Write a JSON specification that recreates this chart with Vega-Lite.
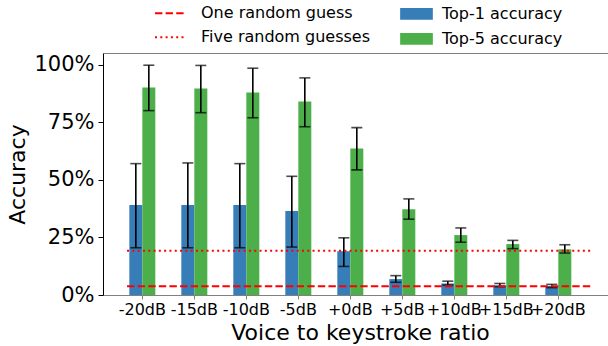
{
  "$schema": "https://vega.github.io/schema/vega-lite/v6.json",
  "width": 505,
  "height": 242,
  "autosize": {"type": "none"},
  "padding": {"left": 103, "top": 53, "right": 0, "bottom": 51},
  "config": {
    "font": "DejaVu Sans",
    "view": {"stroke": null},
    "axis": {"grid": false, "labelColor": "black", "titleColor": "black", "titleFontWeight": "normal"},
    "axisY": {"domainColor": "black", "tickColor": "black", "tickSize": 5, "labelPadding": 4, "labelFontSize": 21, "titleFontSize": 22, "titlePadding": 4}
  },
  "datasets": {
    "acc": [
      {"ratio": "-20dB", "metric": "Top-1 accuracy", "acc": 0.39, "lo": 0.205, "hi": 0.57},
      {"ratio": "-20dB", "metric": "Top-5 accuracy", "acc": 0.9, "lo": 0.8, "hi": 0.997},
      {"ratio": "-15dB", "metric": "Top-1 accuracy", "acc": 0.39, "lo": 0.205, "hi": 0.573},
      {"ratio": "-15dB", "metric": "Top-5 accuracy", "acc": 0.896, "lo": 0.791, "hi": 0.996},
      {"ratio": "-10dB", "metric": "Top-1 accuracy", "acc": 0.39, "lo": 0.205, "hi": 0.57},
      {"ratio": "-10dB", "metric": "Top-5 accuracy", "acc": 0.879, "lo": 0.769, "hi": 0.984},
      {"ratio": "-5dB", "metric": "Top-1 accuracy", "acc": 0.364, "lo": 0.208, "hi": 0.515},
      {"ratio": "-5dB", "metric": "Top-5 accuracy", "acc": 0.84, "lo": 0.73, "hi": 0.942},
      {"ratio": "+0dB", "metric": "Top-1 accuracy", "acc": 0.19, "lo": 0.124, "hi": 0.248},
      {"ratio": "+0dB", "metric": "Top-5 accuracy", "acc": 0.636, "lo": 0.543, "hi": 0.726},
      {"ratio": "+5dB", "metric": "Top-1 accuracy", "acc": 0.069, "lo": 0.055, "hi": 0.084},
      {"ratio": "+5dB", "metric": "Top-5 accuracy", "acc": 0.372, "lo": 0.329, "hi": 0.417},
      {"ratio": "+10dB", "metric": "Top-1 accuracy", "acc": 0.05, "lo": 0.043, "hi": 0.06},
      {"ratio": "+10dB", "metric": "Top-5 accuracy", "acc": 0.26, "lo": 0.229, "hi": 0.291},
      {"ratio": "+15dB", "metric": "Top-1 accuracy", "acc": 0.042, "lo": 0.036, "hi": 0.05},
      {"ratio": "+15dB", "metric": "Top-5 accuracy", "acc": 0.221, "lo": 0.201, "hi": 0.237},
      {"ratio": "+20dB", "metric": "Top-1 accuracy", "acc": 0.039, "lo": 0.032, "hi": 0.046},
      {"ratio": "+20dB", "metric": "Top-5 accuracy", "acc": 0.198, "lo": 0.182, "hi": 0.218}
    ],
    "guess": [
      {"guess": "One random guess", "value": 0.0385, "start": "-20dB", "end": "+20dB"},
      {"guess": "Five random guesses", "value": 0.1923, "start": "-20dB", "end": "+20dB"}
    ]
  },
  "layer": [
    {
      "data": {"name": "acc"},
      "mark": {"type": "bar"},
      "encoding": {
        "x": {"field": "ratio", "type": "nominal",
          "scale": {"domain": ["-20dB", "-15dB", "-10dB", "-5dB", "+0dB", "+5dB", "+10dB", "+15dB", "+20dB"], "paddingInner": 0, "paddingOuter": 0.356, "align": 0.36},
          "axis": {"orient": "bottom", "title": "Voice to keystroke ratio", "labelAngle": 0, "labelFontSize": 16, "labelPadding": 2, "tickSize": 4, "tickColor": "#808080", "domainColor": "#808080", "titleFontSize": 22, "titlePadding": 5, "titleX": 257, "titleAlign": "center"}},
        "xOffset": {"field": "metric", "type": "nominal", "scale": {"domain": ["Top-1 accuracy", "Top-5 accuracy"], "paddingInner": 0, "paddingOuter": 1.476}},
        "y": {"field": "acc", "type": "quantitative", "title": "Accuracy", "scale": {"domain": [0, 1.05], "nice": false},
          "axis": {"values": [0, 0.25, 0.5, 0.75, 1], "format": ".0%"}},
        "color": {"field": "metric", "type": "nominal",
          "scale": {"domain": ["Top-1 accuracy", "Top-5 accuracy"], "range": ["#377eb8", "#4daf4a"]},
          "legend": {"orient": "none", "legendX": 297, "legendY": -55.7, "title": null, "symbolType": "M-1,-0.358H1V0.358H-1Z", "symbolSize": 1069, "symbolStrokeWidth": 0, "symbolOpacity": 1, "labelFontSize": 16, "labelOffset": 9, "labelColor": "black", "labelLimit": 300, "rowPadding": -2.3}}
      }
    },
    {
      "data": {"name": "acc"},
      "mark": {"type": "rule", "color": "black", "strokeWidth": 1.6},
      "encoding": {
        "x": {"field": "ratio", "type": "nominal",
          "axis": {"orient": "top", "labels": false, "ticks": false, "title": null, "domainColor": "#808080"}},
        "xOffset": {"field": "metric", "type": "nominal"},
        "y": {"field": "lo", "type": "quantitative", "title": "Accuracy"},
        "y2": {"field": "hi"}
      }
    },
    {
      "data": {"name": "acc"},
      "mark": {"type": "tick", "color": "black", "size": 11, "thickness": 1.6, "orient": "horizontal"},
      "encoding": {
        "x": {"field": "ratio", "type": "nominal", "axis": null},
        "xOffset": {"field": "metric", "type": "nominal"},
        "y": {"field": "lo", "type": "quantitative", "title": "Accuracy"}
      }
    },
    {
      "data": {"name": "acc"},
      "mark": {"type": "tick", "color": "black", "size": 11, "thickness": 1.6, "orient": "horizontal"},
      "encoding": {
        "x": {"field": "ratio", "type": "nominal", "axis": null},
        "xOffset": {"field": "metric", "type": "nominal"},
        "y": {"field": "hi", "type": "quantitative", "title": "Accuracy"}
      }
    },
    {
      "data": {"name": "guess"},
      "mark": {"type": "rule", "color": "red", "strokeWidth": 2, "strokeCap": "butt"},
      "encoding": {
        "x": {"field": "start", "type": "nominal", "bandPosition": 0.206, "axis": null},
        "x2": {"field": "end", "bandPosition": 1.167},
        "y": {"field": "value", "type": "quantitative", "title": "Accuracy"},
        "strokeDash": {"field": "guess", "type": "nominal",
          "scale": {"domain": ["One random guess", "Five random guesses"], "range": [[7.4, 3.2], [2, 3.3]]},
          "legend": {"orient": "none", "legendX": 51, "legendY": -55.7, "title": null, "symbolType": "stroke", "symbolSize": 900, "symbolStrokeWidth": 2, "symbolStrokeColor": "red", "labelFontSize": 16, "labelOffset": 15, "labelColor": "black", "labelLimit": 300, "rowPadding": -2.3}}
      }
    }
  ],
  "resolve": {"axis": {"x": "independent"}}
}
